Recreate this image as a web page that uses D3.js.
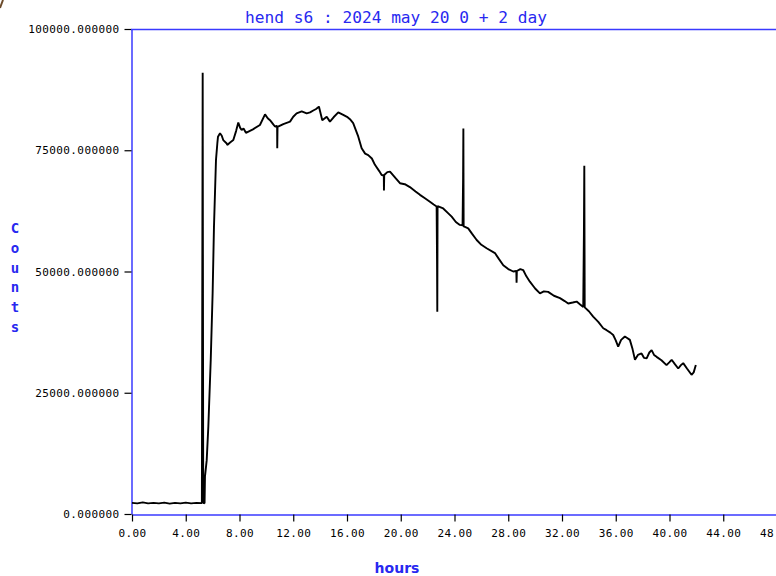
<!DOCTYPE html>
<html lang="en">
<head>
    <meta charset="UTF-8">
    <title>hend s6</title>
    <script src="https://d3js.org/d3.v7.min.js"></script>
    <style>
        body { margin: 0; background: #fff; }
    </style>
</head>
<body>
<script>
    // hend s6 : counts vs hours

    var hours = [0, 0.4, 0.8, 1.2, 1.6, 2.0, 2.4, 2.8, 3.2, 3.6, 4.0, 4.4, 4.8, 5.20, 5.26, 5.30, 5.40,
        5.43, 5.56, 5.68, 5.86, 6.00, 6.10, 6.25, 6.35, 6.40, 6.55, 6.68, 6.79, 7.05, 7.09, 7.30, 7.54,
        7.75, 7.91, 8.05, 8.16, 8.30, 8.48, 9.00, 9.52, 9.90, 10.10, 10.27, 10.50, 10.64, 10.80, 10.81,
        10.83, 11.26, 11.76, 12.00, 12.25, 12.63, 13.00, 13.25, 13.49, 13.70, 13.91, 14.16, 14.49, 14.73,
        15.00, 15.35, 15.72, 16.00, 16.22, 16.46, 16.84, 17.09, 17.35, 17.58, 17.85, 18.08, 18.40, 18.58,
        18.74, 18.75, 18.77, 19.00, 19.20, 19.60, 19.94, 20.30, 20.68, 21.10, 21.43, 21.80, 22.17, 22.45,
        22.67, 22.70, 22.72, 22.74, 23.16, 23.50, 23.79, 24.10, 24.40, 24.60, 24.64, 24.66, 24.68, 24.78,
        25.02, 25.30, 25.65, 26.00, 26.39, 27.01, 27.30, 27.63, 28.00, 28.37, 28.60, 28.62, 28.64, 28.90,
        29.11, 29.35, 29.61, 30.00, 30.36, 30.65, 30.97, 31.40, 31.85, 32.20, 32.46, 32.80, 33.09, 33.35,
        33.58, 33.63, 33.66, 33.69, 34.00, 34.32, 34.70, 35.07, 35.32, 35.60, 35.81, 36.00, 36.18, 36.40,
        36.68, 36.85, 37.05, 37.25, 37.43, 37.65, 37.92, 38.10, 38.30, 38.50, 38.67, 38.85, 39.04, 39.40,
        39.78, 40.00, 40.16, 40.40, 40.65, 40.85, 41.02, 41.30, 41.64, 41.80, 41.96];

    var counts = [2300, 2200, 2400, 2200, 2300, 2200, 2350, 2150, 2300, 2200, 2350, 2200, 2300, 2250, 91000, 2300, 2200,
        7700, 11100, 18000, 31800, 45500, 59200, 73000, 76400, 77800, 78500, 78000, 77100, 76400, 76100, 76600, 77100,
        79000, 80700, 79600, 79200, 79500, 78600, 79300, 80200, 82400, 81600, 81200, 80400, 79900, 80000, 75400,
        79800, 80400, 80900, 81900, 82600, 83000, 82600, 82800, 83200, 83500, 84000, 81200, 81900, 80900,
        81800, 82800, 82300, 81900, 81400, 80600, 77800, 75400, 74300, 74000, 73300, 72000, 70700, 69900,
        69800, 66700, 69900, 70500, 70600, 69300, 68200, 68000, 67400, 66500, 65800, 65100, 64400, 63800,
        63400, 52400, 41700, 63500, 63000, 62100, 61300, 60200, 59600, 59500, 69200, 79500, 59300, 59200,
        58900, 57800, 56500, 55500, 54800, 53800, 52600, 51300, 50500, 50000, 50100, 47700, 50100, 50500,
        50300, 49000, 47900, 46500, 45500, 45900, 45800, 45000, 44500, 43900, 43400, 43600, 43800, 43200,
        42700, 57500, 71800, 42600, 41800, 40700, 39600, 38300, 37900, 37400, 36900, 35800, 34500, 35900,
        36600, 36300, 35900, 34000, 31800, 32800, 33100, 32200, 32100, 33300, 33800, 32800, 32400, 31700,
        30700, 31300, 31800, 30900, 30000, 30700, 31100, 30000, 28700, 29200, 30700];

    var xTicks = [0, 4, 8, 12, 16, 20, 24, 28, 32, 36, 40, 44, 48];
    var yTicks = [0, 25000, 50000, 75000, 100000];

    var title = "hend s6 : 2024 may 20 0 + 2 day";
    var yLabel = "Counts";
    var xLabel = "hours";

    var width = 776,
        height = 576;

    var blue = "#3a3aff",
        textBlue = "#2828f0";

    var svg = d3.select("body").append("svg")
        .attr("width", width)
        .attr("height", height);

    var x = d3.scaleLinear().domain([0, 48]).range([132, 777]);
    var y = d3.scaleLinear().domain([0, 100000]).range([514, 29]);

    // little corner mark top left
    svg.append("path")
        .attr("d", "M0,8L3,0")
        .attr("stroke", "#6b4a2a")
        .attr("stroke-width", 2);

    // title
    svg.append("text")
        .attr("x", 396)
        .attr("y", 23)
        .attr("text-anchor", "middle")
        .attr("fill", textBlue)
        .style("font-family", "'DejaVu Sans Mono', monospace")
        .style("font-size", "16px")
        .attr("textLength", 302)
        .attr("lengthAdjust", "spacingAndGlyphs")
        .text(title);

    // y axis
    var yAxis = d3.axisLeft(y)
        .tickValues(yTicks)
        .tickFormat(d3.format(".6f"))
        .tickSize(7)
        .tickSizeOuter(0)
        .tickPadding(5);

    var gy = svg.append("g")
        .attr("transform", "translate(131.5,0)")
        .call(yAxis);

    // x axis
    var xAxis = d3.axisBottom(x)
        .tickValues(xTicks)
        .tickFormat(d3.format(".2f"))
        .tickSize(7)
        .tickSizeOuter(0)
        .tickPadding(8);

    var gx = svg.append("g")
        .attr("transform", "translate(0,514.5)")
        .call(xAxis);

    [gx, gy].forEach(function (g) {
        g.select(".domain").attr("stroke", blue).attr("stroke-width", 1.5);
        g.selectAll(".tick line").attr("stroke", "#000").attr("stroke-width", 1.2);
        g.selectAll(".tick text")
            .attr("fill", "#000")
            .style("font-family", "'DejaVu Sans Mono', monospace")
            .style("font-size", "11px")
            .style("letter-spacing", "0.4px");
    });

    // top frame line
    svg.append("line")
        .attr("x1", 131)
        .attr("x2", width)
        .attr("y1", 29.5)
        .attr("y2", 29.5)
        .attr("stroke", blue)
        .attr("stroke-width", 1.5);

    // the series
    var line = d3.line()
        .x(function (d, i) { return x(hours[i]); })
        .y(function (d, i) { return y(counts[i]); });

    svg.append("path")
        .attr("d", line(counts))
        .attr("fill", "none")
        .attr("stroke", "#000")
        .attr("stroke-width", 1.9)
        .attr("stroke-linejoin", "bevel");

    // y label, one letter per line
    svg.append("g").selectAll("text")
        .data(yLabel.split(""))
        .enter()
        .append("text")
        .attr("x", 15)
        .attr("y", function (d, i) { return 233 + i * 19.8; })
        .attr("text-anchor", "middle")
        .attr("fill", textBlue)
        .style("font-family", "'DejaVu Sans Mono', monospace")
        .style("font-size", "14px")
        .style("font-weight", "bold")
        .text(function (d) { return d; });

    // x label
    svg.append("text")
        .attr("x", 397)
        .attr("y", 573)
        .attr("text-anchor", "middle")
        .attr("fill", textBlue)
        .style("font-family", "'DejaVu Sans', sans-serif")
        .style("font-size", "14px")
        .style("font-weight", "bold")
        .text(xLabel);
</script>
</body>
</html>
